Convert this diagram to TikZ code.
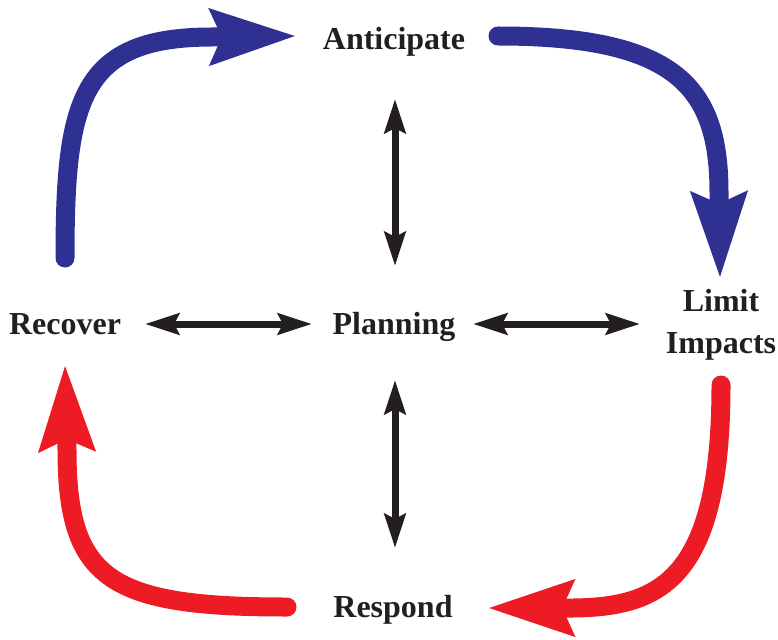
\documentclass[tikz,border=0pt]{standalone}
\usepackage{fontspec}
\setmainfont{Liberation Serif}
\usetikzlibrary{arrows.meta}
\definecolor{cycleblue}{HTML}{2E3192}
\definecolor{cyclered}{HTML}{ED1C24}
\definecolor{linkdark}{HTML}{231F20}
\tikzset{
  label/.style={font=\fontsize{32}{42}\selectfont\bfseries, text=linkdark, inner sep=0pt, anchor=base, align=center},
  bigflow/.style={line width=19pt, line cap=round,
    -{Stealth[length=85pt, width=53pt, inset=10pt]}},
  linkarrow/.style={line width=7pt, draw=linkdark,
    {Stealth[length=34pt, width=21pt, inset=5pt]}-{Stealth[length=34pt, width=21pt, inset=5pt]}}
}
\begin{document}
\begin{tikzpicture}[x=1pt, y=-1pt]
\useasboundingbox (0,0) rectangle (778,639);

% stage labels
\node[label] (anticipate) at (394,50) {Anticipate};
\node[label] (planning) at (394,334) {Planning};
\node[label] (recover) at (65,334) {Recover};
\node[label, anchor=north] (limit) at (721,289) {Limit\\Impacts};
\node[label] (respond) at (393,617) {Respond};

% ends of the cycle arrows
\coordinate (ant-in) at (297,36);
\coordinate (ant-out) at (498,36);
\coordinate (lim-in) at (720,279);
\coordinate (lim-out) at (721,385);
\coordinate (res-in) at (487,608);
\coordinate (res-out) at (287,607);
\coordinate (rec-in) at (65,364);
\coordinate (rec-out) at (65,258);

% cycle: recover -> anticipate -> limit impacts (blue)
\draw[bigflow, draw=cycleblue]
  (rec-out) .. controls (65,100) and (80,37) .. (212,37) -- (ant-in);
\draw[bigflow, draw=cycleblue]
  (ant-out) .. controls (680,36) and (719,90) .. (719,193) -- (lim-in);

% cycle: limit impacts -> respond -> recover (red)
\draw[bigflow, draw=cyclered]
  (lim-out) .. controls (721,580) and (660,607) .. (573,608) -- (res-in);
\draw[bigflow, draw=cyclered]
  (res-out) .. controls (110,607) and (67,580) .. (67,450) -- (rec-in);

% planning links
\coordinate (p-up-a) at (395,99);
\coordinate (p-up-b) at (395,266);
\coordinate (p-dn-a) at (395,380);
\coordinate (p-dn-b) at (395,548);
\coordinate (p-l-a) at (145,324);
\coordinate (p-l-b) at (312,324);
\coordinate (p-r-a) at (473,324);
\coordinate (p-r-b) at (640,324);
\draw[linkarrow] (p-up-a) -- (p-up-b);
\draw[linkarrow] (p-dn-a) -- (p-dn-b);
\draw[linkarrow] (p-l-a) -- (p-l-b);
\draw[linkarrow] (p-r-a) -- (p-r-b);
\end{tikzpicture}
\end{document}
